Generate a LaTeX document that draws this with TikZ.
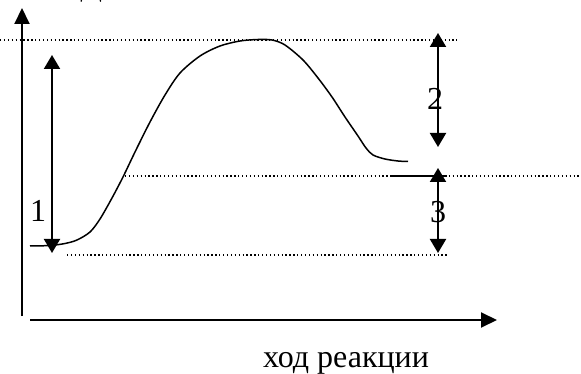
\documentclass[tikz,border=0pt]{standalone}
\usepackage{fontspec}
\setmainfont{Liberation Serif}
\usetikzlibrary{arrows.meta}
\tikzset{
  lbl/.style={inner sep=0pt, font=\fontsize{32}{38}\selectfont},
  dotline/.style={line width=1.3pt, dash pattern=on 1.3pt off 2.6pt},
  dblarrow/.style={line width=2pt, {Triangle[width=16pt,length=14pt]}-{Triangle[width=16pt,length=14pt]}},
  axis/.style={line width=2pt, -{Triangle[width=15pt,length=16pt]}},
}
\begin{document}
\begin{tikzpicture}[x=1pt,y=-1pt]
\useasboundingbox (0,0) rectangle (581,374);
% axes
\coordinate (yb) at (22,316);
\coordinate (yt) at (22,8);
\coordinate (xl) at (30,320);
\coordinate (xr) at (497,320);
\draw[axis] (yb) -- (yt);
\draw[axis] (xl) -- (xr);
\node[lbl, anchor=base west] (ylab) at (29,-4) {Е, кДж/моль};
\node[lbl, anchor=base] (xlab) at (346,367) {ход реакции};
% dotted levels
\coordinate (t1) at (0,40);   \coordinate (t2) at (457,40);
\coordinate (m1) at (125,176); \coordinate (m2) at (581,176);
\coordinate (b1) at (67,255);  \coordinate (b2) at (448,255);
\draw[dotline] (t1) -- (t2);
\draw[dotline] (m1) -- (m2);
\draw[dotline] (b1) -- (b2);
\coordinate (s1) at (390,176); \coordinate (s2) at (447,176);
\draw[line width=2pt] (s1) -- (s2);
% energy curve
\draw[line width=1.5pt, line join=round] plot[smooth, tension=0.5] coordinates {
 (30,246) (50,245.5) (65,243.5) (77,240) (90,232) (100,219) (112,198) (123,177)
 (135,152) (150,122) (165,95) (180,73) (200,56) (220,46) (240,41) (258,39.5)
 (272,40) (285,45) (303,60) (318,78) (332,97) (345,117) (358,136) (366,148)
 (373,155) (385,159) (398,161) (408,161.5)};
% arrows
\coordinate (a1t) at (52,55);  \coordinate (a1b) at (52,253);
\coordinate (a2t) at (438,33); \coordinate (a2b) at (438,147);
\coordinate (a3t) at (438,168); \coordinate (a3b) at (438,253);
\draw[dblarrow] (a1t) -- (a1b);
\draw[dblarrow] (a2t) -- (a2b);
\draw[dblarrow] (a3t) -- (a3b);
\node[lbl] (n1) at (38,211) {1};
\node[lbl] (n2) at (435,99) {2};
\node[lbl] (n3) at (438,212) {3};
\end{tikzpicture}
\end{document}
